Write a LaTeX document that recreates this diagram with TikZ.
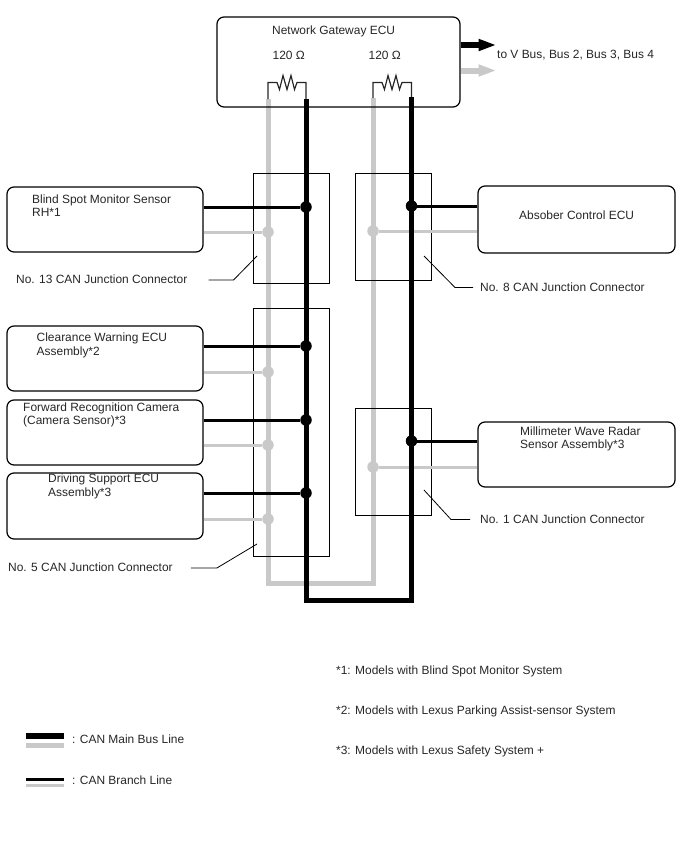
\documentclass[tikz,border=0pt]{standalone}
\usepackage{fontspec}
\setmainfont{Liberation Sans}
\usetikzlibrary{arrows.meta,calc}
\definecolor{busgrey}{HTML}{C9C9C9}
\tikzset{
  ecu/.style={draw=black,line width=1.2pt,rounded corners=7pt,inner sep=0pt},
  jbox/.style={draw=black,line width=0.9pt,inner sep=0pt},
  label/.style={inner sep=0pt,anchor=west,align=left,font=\fontsize{11.95}{13.5}\selectfont,text=black!85},
  mainblack/.style={draw=black,line width=5pt,line cap=butt,line join=miter},
  maingrey/.style={draw=busgrey,line width=5pt,line cap=butt,line join=miter},
  branchblack/.style={draw=black,line width=3pt},
  branchgrey/.style={draw=busgrey,line width=3pt},
  dotblack/.style={circle,fill=black,inner sep=0pt,minimum size=11.5pt},
  dotgrey/.style={circle,fill=busgrey,inner sep=0pt,minimum size=11.5pt},
  leader/.style={draw=black,line width=0.8pt},
  lead/.style={draw=black!85,line width=1.2pt,line join=miter},
  outarrow/.style={line width=6pt,-{Triangle[length=18pt,width=11pt]}}
}
\begin{document}
\begin{tikzpicture}[x=1pt,y=-1pt]
\useasboundingbox (0,0) rectangle (688,852);

% terminal points on the bus pairs
\coordinate (gl1) at (268,99);
\coordinate (bl1) at (306,99);
\coordinate (gl2) at (373,98);
\coordinate (bl2) at (411.5,97);
\coordinate (gb1) at (268,583.5);
\coordinate (gb2) at (373,583.5);
\coordinate (bb1) at (306,600.5);
\coordinate (bb2) at (411.5,600.5);

% grey main bus sits underneath the connector frames
\draw[maingrey] (gl1) -- (gb1) -- (gb2) -- (gl2);

% gateway
\node[ecu,minimum width=243pt,minimum height=90pt] (gw) at (338.5,62) {};

% junction connectors
\node[jbox,minimum width=76pt,minimum height=110pt] (j13) at (291,228) {};
\node[jbox,minimum width=76pt,minimum height=107pt] (j8) at (393,226.5) {};
\node[jbox,minimum width=76pt,minimum height=248pt] (j5) at (291,432) {};
\node[jbox,minimum width=76pt,minimum height=107pt] (j1) at (393,461.5) {};

% units on the network
\node[ecu,minimum width=196pt,minimum height=65pt] (bsm) at (105,219.5) {};
\node[ecu,minimum width=197pt,minimum height=67pt] (abs) at (576.5,219.5) {};
\node[ecu,minimum width=196pt,minimum height=65pt] (cw) at (105,358.5) {};
\node[ecu,minimum width=196pt,minimum height=65pt] (frc) at (105,432.5) {};
\node[ecu,minimum width=196pt,minimum height=66pt] (ds) at (105,506) {};
\node[ecu,minimum width=197pt,minimum height=65pt] (mw) at (576.5,454.5) {};

% branch junctions
\node[dotgrey] (g1) at (268,232) {};
\node[dotgrey] (g2) at (373,231) {};
\node[dotgrey] (g3) at (268,372) {};
\node[dotgrey] (g4) at (268,445) {};
\node[dotgrey] (g5) at (268,519) {};
\node[dotgrey] (g6) at (373,467) {};
\draw[branchgrey] (bsm.east |- g1) -- (g1);
\draw[branchgrey] (g2) -- (abs.west |- g2);
\draw[branchgrey] (cw.east |- g3) -- (g3);
\draw[branchgrey] (frc.east |- g4) -- (g4);
\draw[branchgrey] (ds.east |- g5) -- (g5);
\draw[branchgrey] (g6) -- (mw.west |- g6);

% black main bus over the frames
\draw[mainblack] (bl1) -- (bb1) -- (bb2) -- (bl2);

\node[dotblack] (b1) at (306,207) {};
\node[dotblack] (b2) at (411.5,206) {};
\node[dotblack] (b3) at (306,346) {};
\node[dotblack] (b4) at (306,420) {};
\node[dotblack] (b5) at (306,493) {};
\node[dotblack] (b6) at (411.5,441) {};
\draw[branchblack] (bsm.east |- b1) -- (b1);
\draw[branchblack] (b2) -- (abs.west |- b2);
\draw[branchblack] (cw.east |- b3) -- (b3);
\draw[branchblack] (frc.east |- b4) -- (b4);
\draw[branchblack] (ds.east |- b5) -- (b5);
\draw[branchblack] (b6) -- (mw.west |- b6);

% terminating resistors
\draw[lead] (gl1) -- (268,82.5) -- (277,82.5) -- (279.5,89.5) -- (283,75.5) -- (287,89.5) -- (291,75.5) -- (294.5,89.5) -- (297,82.5) -- (306,82.5) -- (bl1);
\draw[lead] (gl2) -- (373,82.5) -- (382,82.5) -- (384.5,89.5) -- (388,75.5) -- (392,89.5) -- (396,75.5) -- (399.5,89.5) -- (402,82.5) -- (411.5,82.5) -- (bl2);

% outgoing buses
\coordinate (arrowA) at (496.5,45);
\coordinate (arrowB) at (496.5,70.5);
\draw[outarrow,busgrey] (gw.east |- arrowB) -- (arrowB);
\draw[outarrow,black] (gw.east |- arrowA) -- (arrowA);

% texts
\node[label] at (272,31.5) {Network Gateway ECU};
\node[label] at (272.5,55.5) {120 Ω};
\node[label] at (368.5,55.5) {120 Ω};
\node[label] at (497,55) {to V Bus, Bus 2, Bus 3, Bus 4};
\node[label] at (32,205.5) {Blind Spot Monitor Sensor\\RH*1};
\node[label] at (519,215) {Absober Control ECU};
\node[label] at (36.5,345.5) {Clearance Warning ECU\\Assembly*2};
\node[label] at (23,415) {Forward Recognition Camera\\(Camera Sensor)*3};
\node[label] at (48,486.5) {Driving Support ECU\\Assembly*3};
\node[label] at (520,439) {Millimeter Wave Radar\\Sensor Assembly*3};

% connector callouts
\node[label] (l13) at (16,279) {No. 13 CAN Junction Connector};
\node[label] (l8) at (480,287) {No. 8 CAN Junction Connector};
\node[label] (l5) at (8,567) {No. 5 CAN Junction Connector};
\node[label] (l1) at (480,519) {No. 1 CAN Junction Connector};
\draw[leader] ($(l13.east)+(21,1)$) -- +(25,0) -- (257,256);
\draw[leader] (424,256) -- (455,287.5) -- ($(l8.west)+(-7,0.5)$);
\draw[leader] ($(l5.east)+(18,1)$) -- +(26,0) -- (257,544);
\draw[leader] (424,490) -- (451,519.5) -- ($(l1.west)+(-10,0.5)$);

% notes
\node[label] at (336,671.5) {*1: Models with Blind Spot Monitor System};
\node[label] at (336,711.5) {*2: Models with Lexus Parking Assist-sensor System};
\node[label] at (336,751.5) {*3: Models with Lexus Safety System +};

% legend
\coordinate (k1) at (26,736);
\coordinate (k2) at (26,745.5);
\coordinate (k3) at (26,779);
\coordinate (k4) at (26,785.5);
\coordinate (k1e) at (64,736);
\coordinate (k2e) at (64,745.5);
\coordinate (k3e) at (64,779);
\coordinate (k4e) at (64,785.5);
\draw[mainblack,line width=5.5pt] (k1) -- (k1e);
\draw[maingrey] (k2) -- (k2e);
\draw[branchblack] (k3) -- (k3e);
\draw[branchgrey] (k4) -- (k4e);
\node[label] at (72,739) {: CAN Main Bus Line};
\node[label] at (72,780) {: CAN Branch Line};
\end{tikzpicture}
\end{document}
